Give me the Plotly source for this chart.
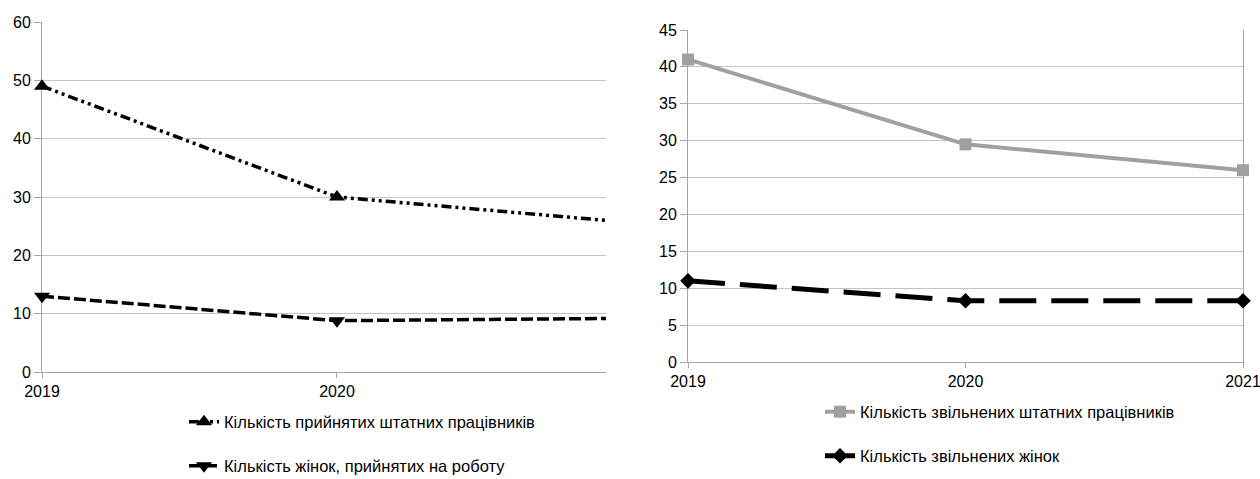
import plotly.graph_objects as go

# Years shown on both charts
years = [2019, 2020, 2021]

# Left chart: hiring
hired_staff = [49, 30, 25.6]
hired_women = [13, 8.8, 9.2]

# Right chart: dismissals
dismissed_staff = [41, 29.5, 26]
dismissed_women = [11, 8.3, 8.3]

name_hired_staff = "Кількість прийнятих штатних працівників"
name_hired_women = "Кількість жінок, прийнятих на роботу"
name_dismissed_staff = "Кількість звільнених штатних працівників"
name_dismissed_women = "Кількість звільнених жінок"

W, H = 1260, 479
FONT = "Liberation Sans"
GRID = "#C4C4C4"
AXIS = "#A6A6A6"
GREY = "#A0A0A0"

# left chart is cut off before its last year
left_xmax = 2020.912
left_dom_x = [42 / W, 606 / W]
left_dom_y = [(H - 372) / H, (H - 22) / H]
right_dom_x = [688 / W, 1243 / W]
right_dom_y = [(H - 362) / H, (H - 30) / H]


def visible_symbols(xs, symbol):
    # points past the cut-off edge get an invisible symbol
    return [symbol if x <= left_xmax else "line-ew" for x in xs]


fig = go.Figure()

fig.add_trace(go.Scatter(
    x=years, y=hired_staff, name=name_hired_staff, mode="lines+markers",
    line=dict(color="black", width=3.5, dash="10px,4px,3px,4px,3px,4px"),
    marker=dict(symbol=visible_symbols(years, "triangle-up"), size=14, color="black",
                line=dict(width=0)),
    cliponaxis=False, xaxis="x", yaxis="y", legend="legend",
))
fig.add_trace(go.Scatter(
    x=years, y=hired_women, name=name_hired_women, mode="lines+markers",
    line=dict(color="black", width=3.5, dash="12px,4px"),
    marker=dict(symbol=visible_symbols(years, "triangle-down"), size=14, color="black",
                line=dict(width=0)),
    cliponaxis=False, xaxis="x", yaxis="y", legend="legend2",
))
fig.add_trace(go.Scatter(
    x=years, y=dismissed_staff, name=name_dismissed_staff, mode="lines+markers",
    line=dict(color=GREY, width=4),
    marker=dict(symbol="square", size=12, color=GREY),
    cliponaxis=False, xaxis="x2", yaxis="y2", legend="legend3",
))
fig.add_trace(go.Scatter(
    x=years, y=dismissed_women, name=name_dismissed_women, mode="lines+markers",
    line=dict(color="black", width=5, dash="37px,15px"),
    marker=dict(symbol="diamond", size=12, color="black"),
    cliponaxis=False, xaxis="x2", yaxis="y2", legend="legend4",
))

tickfont = dict(family=FONT, size=16, color="black")
common_x = dict(
    tickmode="array", tickvals=years, ticktext=[str(y) for y in years],
    showgrid=False, zeroline=False, showline=True, linecolor=AXIS, linewidth=1,
    ticks="outside", ticklen=5, tickcolor=AXIS, tickfont=tickfont,
    ticklabeloverflow="allow", layer="below traces", automargin=False,
)
common_y = dict(
    showgrid=True, gridcolor=GRID, gridwidth=1, zeroline=False,
    showline=True, linecolor=AXIS, linewidth=1,
    ticks="outside", ticklen=7, tickcolor=AXIS, tickfont=tickfont,
    layer="below traces", automargin=False,
)


def legend_at(x, y):
    return dict(
        x=x / W, y=(H - y) / H,
        font=dict(family=FONT, size=16.5, color="black"),
        bgcolor="rgba(0,0,0,0)", borderwidth=0,
        xanchor="left", yanchor="middle",
    )


fig.update_layout(
    width=W, height=H,
    margin=dict(l=0, r=0, t=0, b=0, autoexpand=False),
    paper_bgcolor="white", plot_bgcolor="white",
    font=dict(family=FONT, color="black"),
    showlegend=True,
    xaxis=dict(domain=left_dom_x, range=[2019, left_xmax], anchor="y", **common_x),
    yaxis=dict(domain=left_dom_y, range=[0, 60], dtick=10, anchor="x", **common_y),
    xaxis2=dict(domain=right_dom_x, range=[2019, 2021], anchor="y2", **common_x),
    yaxis2=dict(domain=right_dom_y, range=[0, 45], dtick=5, anchor="x2",
                mirror=True, **common_y),
    legend=legend_at(184, 422),
    legend2=legend_at(184, 466),
    legend3=legend_at(820, 412),
    legend4=legend_at(820, 456),
)

fig.write_html("out.html")
